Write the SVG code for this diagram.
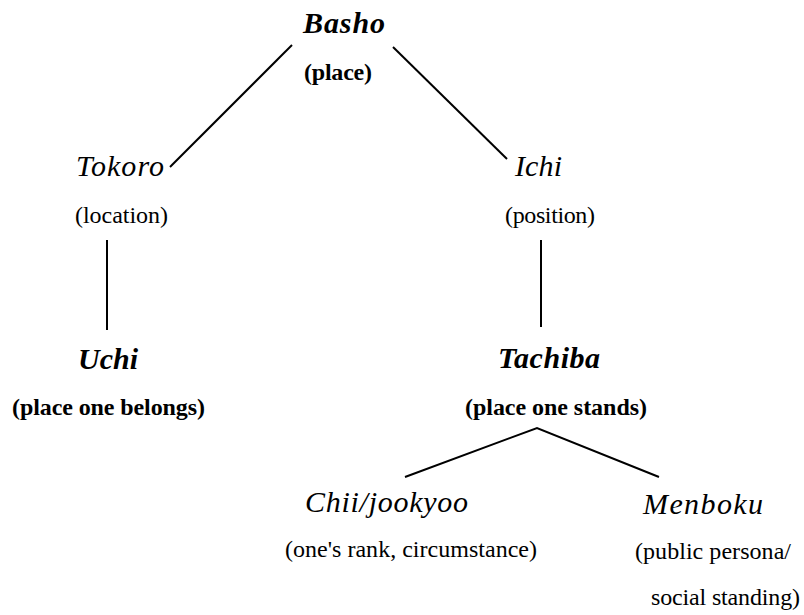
<svg xmlns="http://www.w3.org/2000/svg" width="804" height="615" viewBox="0 0 804 615">
<style>
.t{font-size:30px;font-style:italic}
.tb{font-size:30px;font-style:italic;font-weight:bold}
.l{font-size:24px}
.lb{font-size:24px;font-weight:bold}
.c{stroke:#000;stroke-width:2;fill:none}
</style>
<rect width="804" height="615" fill="#fff"/>
<g id="connectors">
<line class="c" x1="292" y1="45" x2="170" y2="167"/>
<line class="c" x1="393" y1="47" x2="507" y2="159"/>
<line class="c" x1="107" y1="240" x2="107" y2="330"/>
<line class="c" x1="541" y1="240" x2="541" y2="327"/>
<polyline class="c" points="405,477 537,428 659,477"/>
</g>
<g font-family="'Liberation Serif', 'Times New Roman', Tinos, 'DejaVu Serif', serif" fill="#000">
<g id="basho">
<text class="tb" x="303" y="33" textLength="82" lengthAdjust="spacing">Basho</text>
<text class="lb" x="304" y="80" textLength="68" lengthAdjust="spacing">(place)</text>
</g>
<g id="tokoro">
<text class="t" x="76" y="176" textLength="88" lengthAdjust="spacing">Tokoro</text>
<text class="l" x="75" y="223" textLength="93" lengthAdjust="spacing">(location)</text>
</g>
<g id="ichi">
<text class="t" x="515" y="176" textLength="47" lengthAdjust="spacing">Ichi</text>
<text class="l" x="505" y="223" textLength="90" lengthAdjust="spacing">(position)</text>
</g>
<g id="uchi">
<text class="tb" x="78" y="369" textLength="60" lengthAdjust="spacing">Uchi</text>
<text class="lb" x="12" y="415" textLength="193" lengthAdjust="spacing">(place one belongs)</text>
</g>
<g id="tachiba">
<text class="tb" x="498" y="368" textLength="102" lengthAdjust="spacing">Tachiba</text>
<text class="lb" x="465" y="415" textLength="182" lengthAdjust="spacing">(place one stands)</text>
</g>
<g id="chii">
<text class="t" x="305" y="512" textLength="163" lengthAdjust="spacing">Chii/jookyoo</text>
<text class="l" x="285" y="557" textLength="252" lengthAdjust="spacing">(one's rank, circumstance)</text>
</g>
<g id="menboku">
<text class="t" x="643" y="514" textLength="120" lengthAdjust="spacing">Menboku</text>
<text class="l" x="635" y="559" textLength="156" lengthAdjust="spacing">(public persona/</text>
<text class="l" x="651" y="605" textLength="149" lengthAdjust="spacing">social standing)</text>
</g>
</g>
</svg>
